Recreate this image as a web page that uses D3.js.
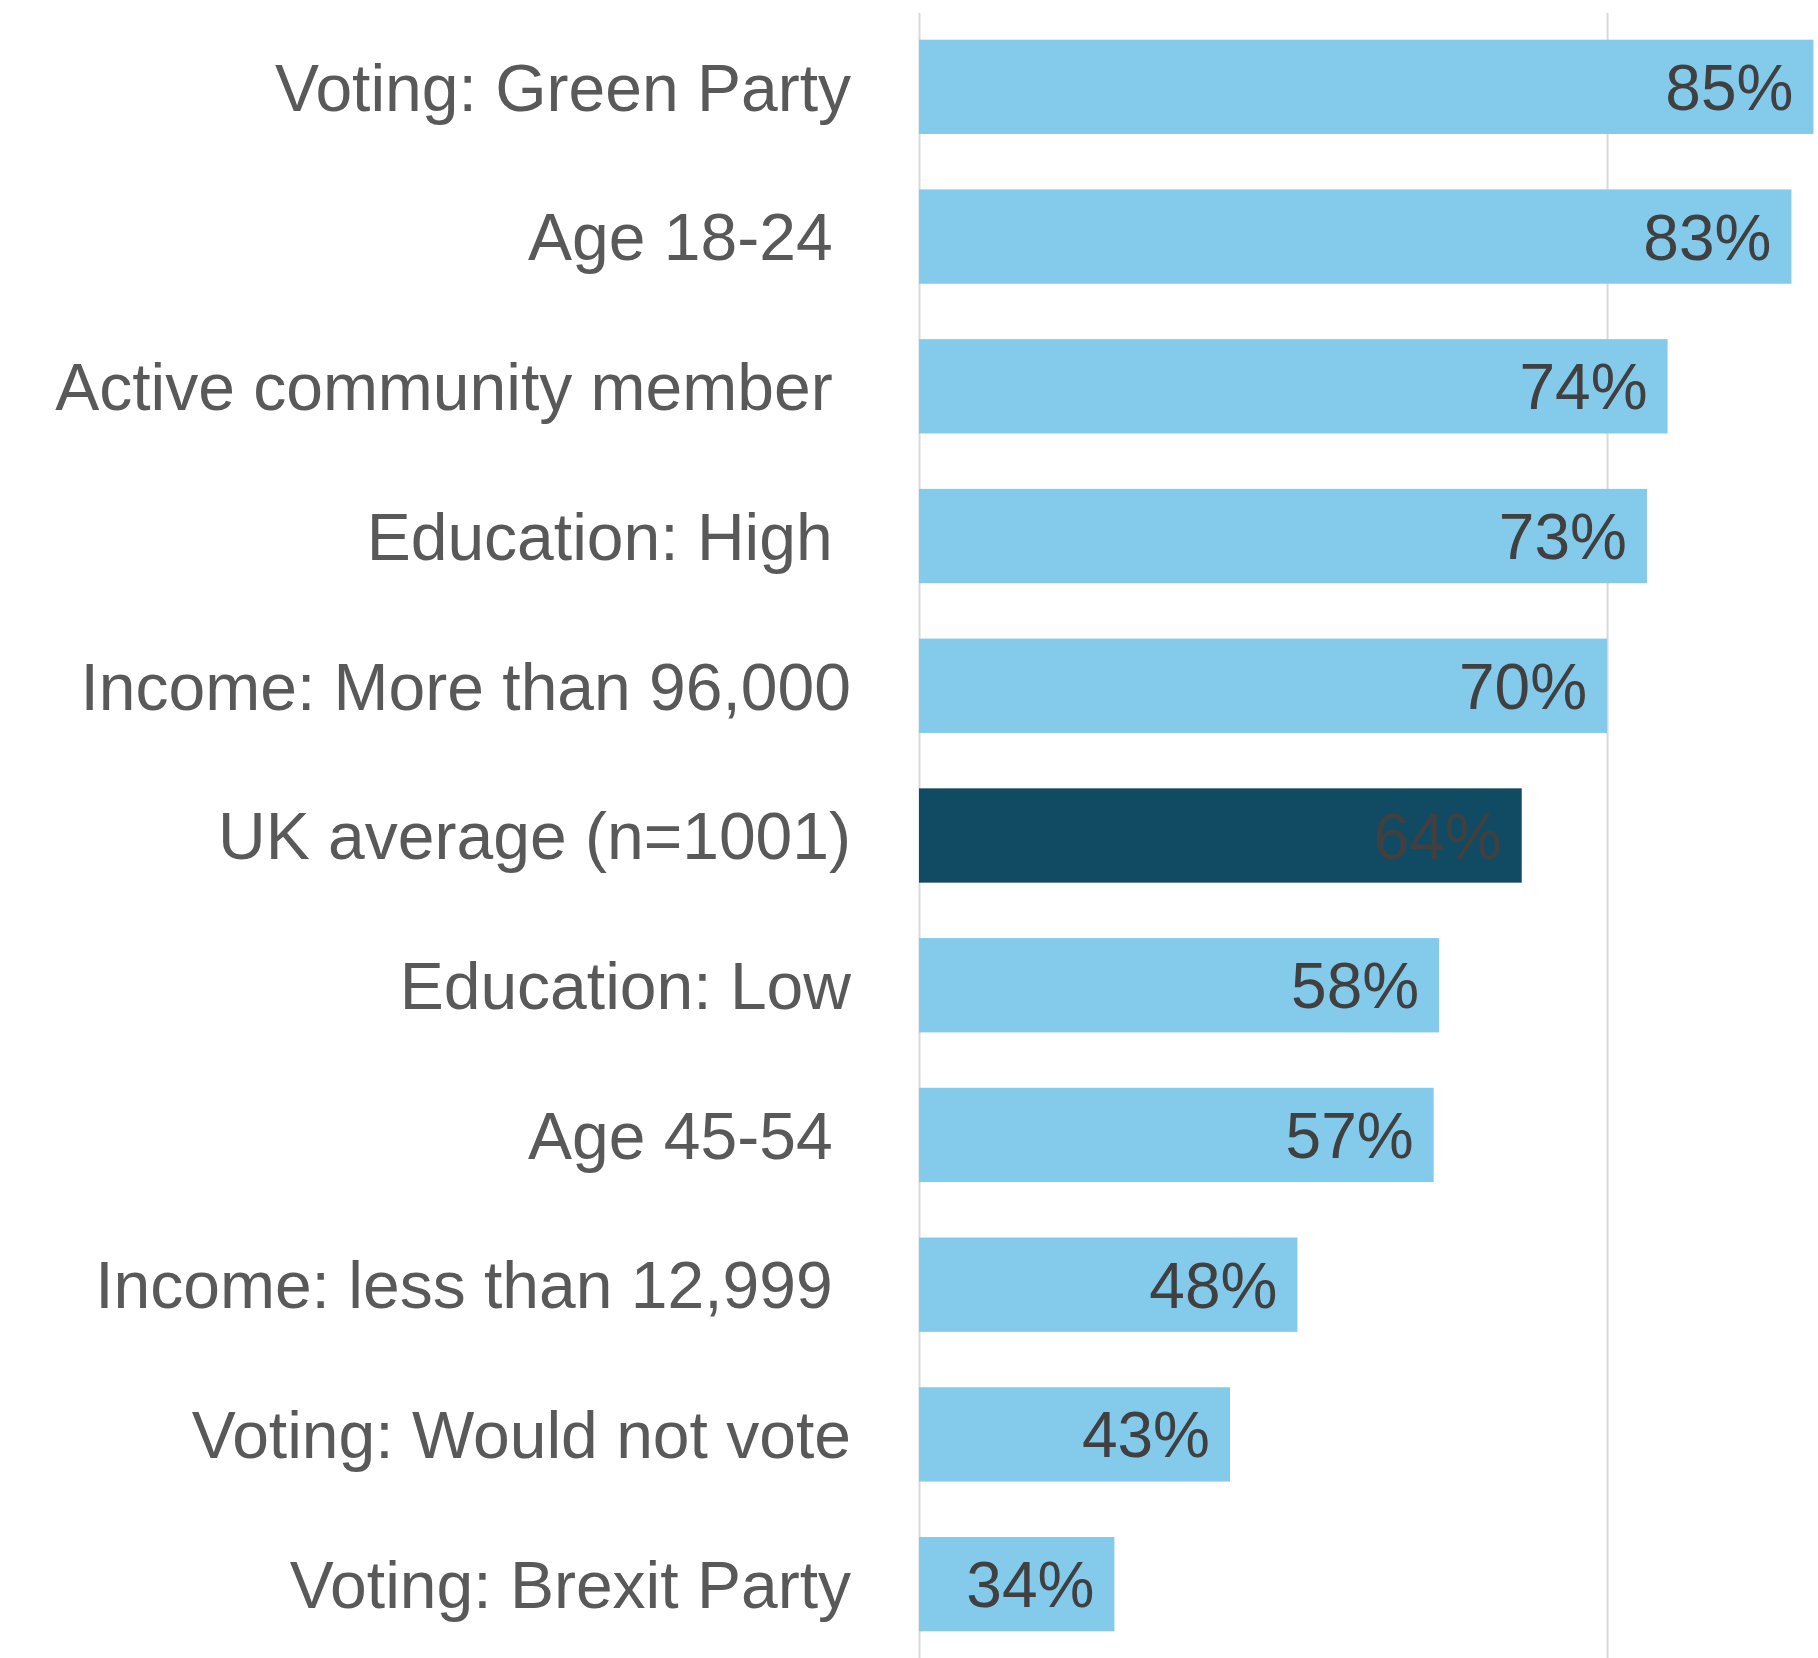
<!DOCTYPE html>
<html>
<head>
<meta charset="utf-8">
<script src="https://cdn.jsdelivr.net/npm/d3@7"></script>
<style>
  body { margin: 0; background: #fff; }
  text { font-family: "Liberation Sans", Arial, sans-serif; white-space: pre; }
</style>
</head>
<body>
<script>
// Chart data (labels are rounded)
var categories = [
  "Voting: Green Party",
  "Age 18-24 ",
  "Active community member ",
  "Education: High ",
  "Income: More than 96,000",
  "UK average (n=1001)",
  "Education: Low",
  "Age 45-54 ",
  "Income: less than 12,999 ",
  "Voting: Would not vote",
  "Voting: Brexit Party"
];
var values = [0.85, 0.834, 0.744, 0.729, 0.70, 0.638, 0.578, 0.574, 0.475, 0.426, 0.342];
var highlight = "UK average (n=1001)";
var gridTicks = [0.2, 0.7];

var rows = categories.map(function(c, i) { return { name: c, value: values[i] }; });

var width = 1818;
var height = 1658;

var svg = d3.select("body").append("svg")
  .attr("width", width)
  .attr("height", height);

// x axis starts at 20%, major unit 50%
var x = d3.scaleLinear()
  .domain([0.2, 0.8533])
  .range([919, 1818]);

var y = d3.scaleBand()
  .domain(categories)
  .range([12, 1659])
  .paddingInner(0.37)
  .paddingOuter(0.185);

// Gridlines
var grid = svg.append("g")
  .attr("transform", "translate(0," + height + ")")
  .call(d3.axisBottom(x).tickValues(gridTicks).tickSize(-(height - 13)).tickFormat(""));
grid.select(".domain").remove();
grid.selectAll(".tick line")
  .attr("stroke", "#d9d9d9")
  .attr("stroke-width", 2);

// Bars
svg.selectAll("rect.bar")
    .data(rows).enter()
  .append("rect")
    .attr("class", "bar")
    .attr("x", x(0.2))
    .attr("y", function(d) { return y(d.name); })
    .attr("width", function(d) { return Math.min(x(d.value), width) - x(0.2); })
    .attr("height", y.bandwidth())
    .attr("fill", function(d) { return d.name === highlight ? "#114a63" : "#83caeb"; });

// Value labels (inside end)
svg.selectAll("text.value")
    .data(rows).enter()
  .append("text")
    .attr("class", "value")
    .attr("x", function(d) { return Math.min(x(d.value), width) - 20; })
    .attr("y", function(d) { return y(d.name) + y.bandwidth() / 2; })
    .attr("dy", "0.36em")
    .attr("text-anchor", "end")
    .attr("font-size", 64)
    .attr("fill", "#404040")
    .text(function(d) { return d3.format(".0%")(d.value); });

// Category labels
svg.selectAll("text.cat")
    .data(rows).enter()
  .append("text")
    .attr("class", "cat")
    .attr("x", 851)
    .attr("y", function(d) { return y(d.name) + y.bandwidth() / 2; })
    .attr("dy", "0.36em")
    .attr("text-anchor", "end")
    .attr("font-size", 66)
    .attr("fill", "#595959")
    .text(function(d) { return d.name; });
</script>
</body>
</html>
